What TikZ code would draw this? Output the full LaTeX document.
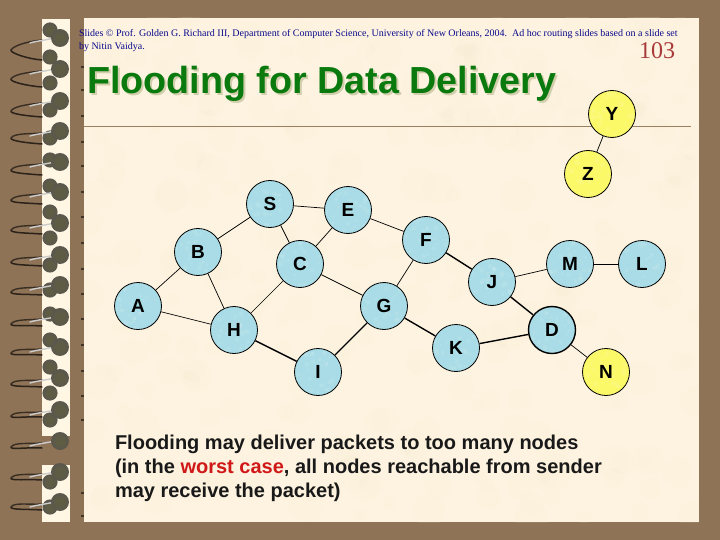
\documentclass[tikz,border=0pt]{standalone}
\usepackage{fontspec}
\setmainfont{Liberation Sans}
\newfontfamily\timesf{Liberation Serif}
\definecolor{frame}{HTML}{8E7357}
\definecolor{paper}{HTML}{FDF3E0}
\definecolor{blotch}{HTML}{F8EAD0}
\definecolor{strip}{HTML}{FFF6E4}
\definecolor{nodeblue}{HTML}{A9DCE6}
\definecolor{nodeyellow}{HTML}{FBF968}
\definecolor{titlegreen}{HTML}{0A7A0E}
\definecolor{titleshadow}{HTML}{D2CEAC}
\definecolor{hdblue}{HTML}{0A0A8C}
\definecolor{numred}{HTML}{A83A3A}
\definecolor{worst}{HTML}{D01818}
\definecolor{ruleb}{HTML}{9A8060}
\pgfdeclareradialshading{beadshade}{\pgfpoint{0bp}{0bp}}{
  color(0bp)=(rgb:red,0.30;green,0.29;blue,0.21);
  color(11bp)=(rgb:red,0.33;green,0.32;blue,0.24);
  color(19bp)=(rgb:red,0.62;green,0.60;blue,0.50);
  color(25bp)=(rgb:red,0.85;green,0.83;blue,0.74);
  color(50bp)=(rgb:red,0.85;green,0.83;blue,0.74)}
\tikzset{
  x=1pt,y=-1pt,
  netnode/.style={circle,draw=black,line width=0.8pt,fill=nodeblue,minimum size=47pt,inner sep=0pt,
    font=\fontsize{19}{19}\selectfont\bfseries,text=black},
  yellownode/.style={netnode,fill=nodeyellow},
  thinedge/.style={draw=black,line width=0.7pt},
  thickedge/.style={draw=black,line width=1.4pt},
  txt/.style={anchor=base west,inner sep=0pt,outer sep=0pt},
  capt/.style={txt,font=\fontsize{20}{20}\selectfont\bfseries,text=black!90},
  beadfill/.style={shading=beadshade},
}
\begin{document}
\begin{tikzpicture}
\useasboundingbox (0,0) rectangle (720,540);
\fill[frame] (0,0) rectangle (720,540);
\fill[paper] (84,18) rectangle (699,522);
% paper mottling
\pgfmathsetseed{4242}
\begin{scope}
\clip (84,18) rectangle (699,522);
\foreach \i in {1,...,300}{
  \pgfmathsetmacro{\px}{84+615*rnd}
  \pgfmathsetmacro{\py}{18+504*rnd}
  \pgfmathsetmacro{\pr}{5+13*rnd}
  \fill[blotch,opacity=0.10] (\px,\py) circle[radius=\pr];
}
\end{scope}
% binding strip
\fill[strip] (42,19) rectangle (70,436);
\fill[strip] (42,465) rectangle (70,522);
% perforation ticks
\foreach \ty in {67,90,116,142,166,192,217,243,269,294,319,345,371,396,420,493,516}
  \fill[black!55!frame] (80.5,\ty-1) rectangle (84,\ty+1);
% small beads
\foreach \sy in {30,57,83,110,138,160,186,212,238,265,290,314,340,367,393,420,482,507}
  \shade[beadfill] (50,\sy) circle[radius=7.6];
% rings
\foreach \ry/\tp/\lo in {38/12/22,69/10/18,101/10/16,131/7/13,162/8/13,192/8/12,223/7/11,255/7/11,285/7/10,317/7/9,347/6/8,378/6/9,410/6/7,441/6/7,472/6/8,502/5/8}{
  \draw[black!70!frame,line width=1.5pt,line cap=round] (42,\ry+\lo) .. controls (28,\ry+\lo-1) and (10,\ry+\tp+3) .. (11,\ry+\tp);
  \draw[black!60!frame,line width=1.4pt,line cap=round] (11,\ry+\tp) .. controls (14,\ry+\tp-5) and (30,\ry+3) .. (42,\ry+2);
  \draw[white!60!gray,line width=1.4pt,line cap=round] (30,\ry+5) .. controls (36,\ry+3) and (48,\ry+2) .. (58,\ry-1);
  \shade[beadfill] (60,\ry) circle[radius=9];
}
% header
\node[txt,text=hdblue,font=\timesf\fontsize{10}{10}\selectfont] (hd1) at (79,37) {Slides © Prof. Golden G. Richard III, Department of Computer Science, University of New Orleans, 2004.\ \ Ad hoc routing slides based on a slide set};
\node[txt,text=hdblue,font=\timesf\fontsize{10}{10}\selectfont] (hd2) at (79,50) {by Nitin Vaidya.};
\node[txt,text=numred,font=\timesf\fontsize{24}{24}\selectfont] (num) at (639,59) {103};
% title
\node[txt,text=titleshadow,font=\fontsize{37.7}{37.7}\selectfont\bfseries] (titleshad) at (89,96) {Flooding for Data Delivery};
\node[txt,text=titlegreen,font=\fontsize{37.7}{37.7}\selectfont\bfseries] (title) at (87,94) {Flooding for Data Delivery};
\draw[ruleb,line width=0.8pt] (84,126.5) -- (691,126.5);
% nodes
\newcommand{\netN}[5]{\node[#1] (#2) at (#3,#4) {};
  \begin{scope}
    \clip (#3,#4) circle[radius=23];
    \foreach \k in {1,...,45}{
      \pgfmathsetmacro{\qx}{#3-23+46*rnd}
      \pgfmathsetmacro{\qy}{#4-23+46*rnd}
      \pgfmathsetmacro{\qr}{0.8+1.8*rnd}
      \fill[white,opacity=0.10] (\qx,\qy) circle[radius=\qr];
    }
  \end{scope}
  \node[font=\fontsize{19}{19}\selectfont\bfseries,inner sep=0pt] at (#2) {#5};
}
\netN{netnode}{S}{270}{204}{S}
\netN{netnode}{E}{348}{210}{E}
\netN{netnode}{B}{198}{252}{B}
\netN{netnode}{C}{300}{264}{C}
\netN{netnode}{A}{138}{306}{A}
\netN{netnode}{H}{234}{330}{H}
\netN{netnode}{G}{384}{306}{G}
\netN{netnode}{I}{318}{372}{I}
\netN{netnode}{F}{426}{240}{F}
\netN{netnode}{J}{492}{282}{J}
\netN{netnode}{M}{570}{264}{M}
\netN{netnode}{L}{642}{264}{L}
\netN{netnode}{K}{456}{348}{K}
\netN{netnode,line width=1.4pt}{D}{552}{330}{D}
\netN{yellownode}{N}{606}{372}{N}
\netN{yellownode}{Y}{612}{114}{Y}
\netN{yellownode}{Z}{588}{174}{Z}
% edges
\foreach \a/\b in {S/E,S/B,S/C,E/C,E/F,B/A,B/H,C/H,C/G,A/H,G/F,J/M,M/L,D/N,Y/Z}
  \draw[thinedge] (\a) -- (\b);
\foreach \a/\b in {H/I,I/G,G/K,F/J,J/D,D/K}
  \draw[thickedge] (\a) -- (\b);
% caption
\node[capt] (cap1) at (115,449) {Flooding may deliver packets to too many nodes};
\node[capt] (cap2) at (115,473) {(in the \textcolor{worst}{worst case}, all nodes reachable from sender};
\node[capt] (cap3) at (115,497) {may receive the packet)};
\end{tikzpicture}
\end{document}
